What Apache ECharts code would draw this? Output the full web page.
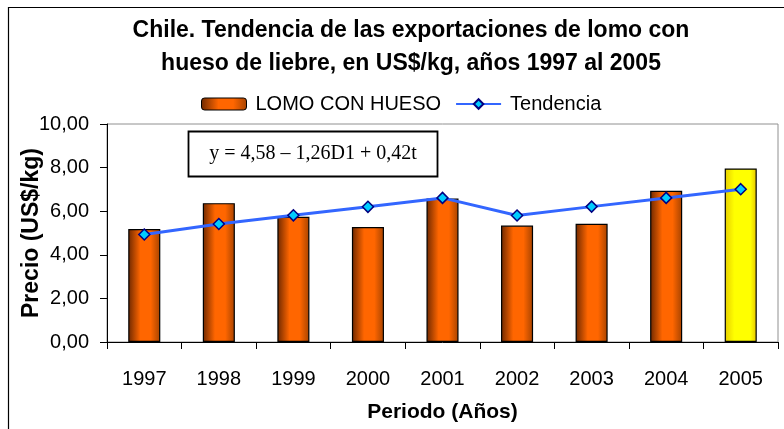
<!DOCTYPE html>
<html><head><meta charset="utf-8">
<script src="https://cdn.jsdelivr.net/npm/echarts@6/dist/echarts.min.js"></script>
<style>html,body{margin:0;padding:0;background:#fff}#c{width:784px;height:429px}</style>
</head><body><div id="c"></div>
<script>
const years = ['1997','1998','1999','2000','2001','2002','2003','2004','2005'];
const lomoConHueso = [5.18, 6.37, 5.74, 5.27, 6.58, 5.34, 5.42, 6.94, 7.96];
const tendencia = [4.93, 5.41, 5.81, 6.20, 6.61, 5.80, 6.21, 6.61, 7.01];
const yTicks = [0, 2, 4, 6, 8, 10];
const titleLines = ['Chile. Tendencia de las exportaciones de lomo con', 'hueso de liebre, en US$/kg, años 1997 al 2005'];
const equation = 'y = 4,58 – 1,26D1 + 0,42t';

const FONT = '"Liberation Sans", Arial, sans-serif';
function orangeGrad() {
  return new echarts.graphic.LinearGradient(0, 0, 1, 0, [
    {offset: 0, color: '#6e2800'},
    {offset: 0.38, color: '#ff6600'},
    {offset: 0.7, color: '#ff6600'},
    {offset: 1, color: '#a64300'}
  ]);
}
function yellowGrad() {
  return new echarts.graphic.LinearGradient(0, 0, 1, 0, [
    {offset: 0, color: '#e6cc00'},
    {offset: 0.3, color: '#ffff00'},
    {offset: 0.8, color: '#ffff00'},
    {offset: 1, color: '#e6c400'}
  ]);
}
const barData = lomoConHueso.map((v, i) => ({
  value: v,
  itemStyle: {color: i === lomoConHueso.length - 1 ? yellowGrad() : orangeGrad()}
}));

const chart = echarts.init(document.getElementById('c'), null, {renderer: 'canvas'});
chart.setOption({
  animation: false,
  backgroundColor: '#fff',
  title: {
    text: titleLines.join('\n'),
    left: 406, top: 9, textAlign: 'center',
    textStyle: {fontFamily: FONT, fontSize: 23, fontWeight: 'bold', color: '#000', lineHeight: 33}
  },
  legend: {
    top: 89, left: 196,
    itemWidth: 45, itemHeight: 12, itemGap: 14,
    textStyle: {fontFamily: FONT, fontSize: 20, color: '#000', padding: [0, 0, 0, 4]},
    data: [
      {name: 'LOMO CON HUESO', itemStyle: {color: orangeGrad(), borderColor: '#000', borderWidth: 1}},
      {name: 'Tendencia'}
    ]
  },
  grid: {left: 107, right: 6, top: 124, bottom: 87, show: true, borderColor: '#909090', borderWidth: 1},
  xAxis: {
    type: 'category', data: years,
    name: 'Periodo (Años)', nameLocation: 'middle', nameGap: 60, nameMoveOverlap: false,
    nameTextStyle: {fontFamily: FONT, fontSize: 21, fontWeight: 'bold', color: '#000'},
    axisLine: {lineStyle: {color: '#000', width: 1}},
    axisTick: {show: true, length: 7, lineStyle: {color: '#000'}},
    axisLabel: {fontFamily: FONT, fontSize: 20, color: '#000', margin: 27}
  },
  yAxis: {
    type: 'value', min: yTicks[0], max: yTicks[yTicks.length - 1], interval: 2,
    name: 'Precio (US$/kg)', nameLocation: 'middle', nameGap: 64, nameMoveOverlap: false,
    nameTextStyle: {fontFamily: FONT, fontSize: 23, fontWeight: 'bold', color: '#000'},
    axisLine: {show: true, lineStyle: {color: '#000', width: 1}},
    axisTick: {show: true, length: 7, lineStyle: {color: '#000'}},
    splitLine: {show: false},
    axisLabel: {fontFamily: FONT, fontSize: 20, color: '#000', margin: 18,
      formatter: v => v.toFixed(2).replace('.', ',')}
  },
  series: [
    {
      name: 'LOMO CON HUESO', type: 'bar', data: barData, barWidth: '43%',
      itemStyle: {color: '#ff6600', borderColor: '#000', borderWidth: 1.2}
    },
    {
      name: 'Tendencia', type: 'line', data: tendencia,
      symbol: 'diamond', symbolSize: 11,
      lineStyle: {color: '#3366ff', width: 3},
      itemStyle: {color: '#00ccff', borderColor: '#000080', borderWidth: 1.5}
    }
  ],
  graphic: [
    {type: 'rect', shape: {x: 8.5, y: 7.5, width: 900, height: 600}, style: {fill: 'none', stroke: '#000', lineWidth: 1.2}, silent: true, z: 100},
    {type: 'rect', shape: {x: 188.5, y: 131.5, width: 249, height: 45}, style: {fill: '#fff', stroke: '#000', lineWidth: 1.8}, z: 100},
    {type: 'text', x: 313, y: 154, style: {text: equation, font: '20px "Liberation Serif", "Times New Roman", serif', fill: '#000', align: 'center', verticalAlign: 'middle'}, z: 101}
  ]
});
</script></body></html>
